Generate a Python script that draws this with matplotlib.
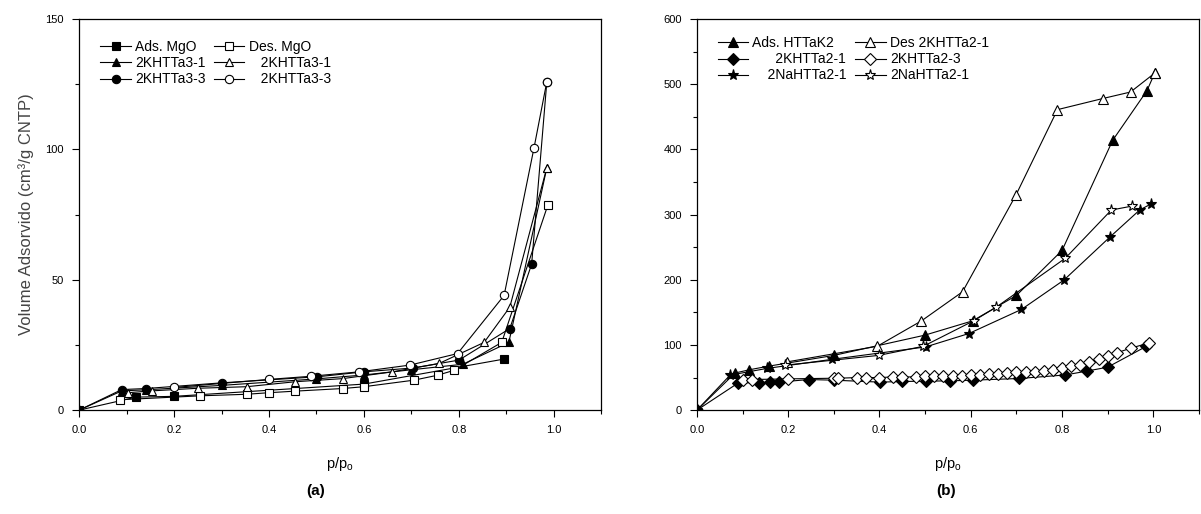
import numpy as np
import matplotlib.pyplot as plt

plt.rcParams['font.family'] = ['Liberation Sans', 'DejaVu Sans']

# ---- panel (a) data ----
ads_mgo_x = [0.0, 0.12, 0.20, 0.60, 0.895]
ads_mgo_y = [0.0, 5.0, 5.3, 10.0, 19.6]
des_mgo_x = [0.086, 0.255, 0.353, 0.40, 0.455, 0.555, 0.60, 0.705, 0.755, 0.79, 0.89, 0.987]
des_mgo_y = [4.0, 5.5, 6.1, 6.7, 7.3, 8.3, 9.0, 11.5, 13.4, 15.3, 26.0, 78.6]

ads_31_x = [0.0, 0.09, 0.14, 0.30, 0.50, 0.60, 0.70, 0.808, 0.905, 0.985]
ads_31_y = [0.0, 7.4, 7.8, 9.5, 12.0, 13.5, 15.5, 17.6, 26.0, 93.0]
des_31_x = [0.103, 0.153, 0.25, 0.353, 0.455, 0.555, 0.66, 0.758, 0.853, 0.907, 0.985]
des_31_y = [6.7, 7.4, 8.4, 9.0, 10.9, 12.1, 14.7, 17.9, 26.0, 39.5, 93.0]

ads_33_x = [0.0, 0.09, 0.141, 0.302, 0.502, 0.60, 0.704, 0.80, 0.907, 0.953, 0.985]
ads_33_y = [0.0, 7.9, 8.3, 10.5, 12.8, 14.7, 16.2, 19.2, 31.3, 56.0, 126.0]
des_33_x = [0.20, 0.40, 0.488, 0.59, 0.697, 0.797, 0.895, 0.958, 0.985]
des_33_y = [8.7, 11.8, 13.0, 14.7, 17.3, 21.7, 44.0, 100.6, 126.0]

# ---- panel (b) data ----
ads_k2_x = [0.0, 0.0835, 0.115, 0.157, 0.30, 0.499, 0.604, 0.70, 0.80, 0.911, 0.986, 1.003]
ads_k2_y = [0.0, 57, 62, 67.5, 84, 115, 137, 176, 245, 414, 490, 517]
des_21_x = [0.197, 0.395, 0.492, 0.582, 0.699, 0.79, 0.889, 0.95, 1.003]
des_21_y = [74, 98, 137, 181.6, 330, 461, 478, 488, 517]

ads_d21_x = [0.0, 0.091, 0.135, 0.16, 0.179, 0.245, 0.30, 0.402, 0.45, 0.503, 0.555,
             0.604, 0.706, 0.807, 0.855, 0.90, 0.985]
ads_d21_y = [0.0, 42, 42, 43, 43, 47, 46, 43, 44, 44.5, 45, 46, 48.6, 54, 60, 66, 98]
des_d23_x = [0.10, 0.12, 0.20, 0.30, 0.31, 0.35, 0.37, 0.40, 0.43, 0.45, 0.48, 0.50,
             0.52, 0.54, 0.56, 0.58, 0.60, 0.62, 0.64, 0.66, 0.68, 0.70, 0.72, 0.74,
             0.76, 0.78, 0.80, 0.82, 0.84, 0.86, 0.88, 0.90, 0.92, 0.95, 0.99]
des_d23_y = [47, 47, 48, 49, 49, 50, 50, 50, 51, 51, 51, 52, 52, 52, 53, 53, 54, 54,
             55, 56, 57, 58, 58, 59, 60, 62, 64, 67, 70, 74, 78, 83, 88, 95, 103]

ads_na_x = [0.0, 0.0725, 0.153, 0.296, 0.501, 0.596, 0.711, 0.804, 0.904, 0.97, 0.994]
ads_na_y = [0.0, 53.7, 64, 78, 97, 117.6, 154.5, 199.5, 265, 307, 316]
des_na_x = [0.193, 0.398, 0.496, 0.606, 0.655, 0.807, 0.908, 0.953]
des_na_y = [69, 84, 98, 137, 157.6, 233, 307, 313]

fig = plt.figure(figsize=(12.01, 5.14), dpi=100)
ax1 = fig.add_axes([0.0658, 0.202, 0.435, 0.761])
ax2 = fig.add_axes([0.5803, 0.202, 0.418, 0.761])

lw = 0.8
ms = 6


def line(ax, x, y, marker, filled, label, ms=ms):
    ax.plot(x, y, color='black', lw=lw, marker=marker, ms=ms,
            mfc='black' if filled else 'white', mec='black', mew=0.8, label=label)


# panel (a)
line(ax1, ads_mgo_x, ads_mgo_y, 's', True, 'Ads. MgO')
line(ax1, ads_31_x, ads_31_y, '^', True, '2KHTTa3-1')
line(ax1, ads_33_x, ads_33_y, 'o', True, '2KHTTa3-3')
line(ax1, des_mgo_x, des_mgo_y, 's', False, 'Des. MgO')
line(ax1, des_31_x, des_31_y, '^', False, '   2KHTTa3-1')
line(ax1, des_33_x, des_33_y, 'o', False, '   2KHTTa3-3')

# panel (b)
line(ax2, ads_k2_x, ads_k2_y, '^', True, 'Ads. HTTaK2', ms=7)
line(ax2, ads_d21_x, ads_d21_y, 'D', True, '      2KHTTa2-1')
line(ax2, ads_na_x, ads_na_y, '*', True, '    2NaHTTa2-1', ms=8)
line(ax2, des_21_x, des_21_y, '^', False, 'Des 2KHTTa2-1', ms=7)
line(ax2, des_d23_x, des_d23_y, 'D', False, '2KHTTa2-3')
line(ax2, des_na_x, des_na_y, '*', False, '2NaHTTa2-1', ms=8)

for ax, ymax, ymaj, ymin in [(ax1, 150, 50, 25), (ax2, 600, 100, 50)]:
    ax.set_xlim(0, 1.1)
    ax.set_ylim(0, ymax)
    ax.set_xticks(np.arange(0, 1.01, 0.2))
    ax.set_xticks(np.arange(0, 1.11, 0.1), minor=True)
    ax.set_yticks(np.arange(0, ymax + 1, ymaj))
    ax.set_yticks(np.arange(0, ymax + 1, ymin), minor=True)
    ax.set_xticklabels(['%.1f' % v for v in np.arange(0, 1.01, 0.2)])
    ax.tick_params(which='major', direction='out', length=5, width=0.8, labelsize=8, pad=6)
    ax.tick_params(which='minor', direction='out', length=3, width=0.8)
    ax.tick_params(top=False, right=False, which='both')
    for s in ax.spines.values():
        s.set_linewidth(0.9)
    ax.set_xlabel('p/p$_\\mathregular{o}$', fontsize=10.5, labelpad=14)

ax1.set_ylabel('Volume Adsorvido (cm³/g CNTP)', fontsize=12, color='#444444', labelpad=8)

ax1.legend(loc='upper left', bbox_to_anchor=(0.03, 0.96), ncol=2, frameon=False,
           fontsize=10, handlelength=2.2, handletextpad=0.3, columnspacing=0.6,
           labelspacing=0.15, borderaxespad=0)
ax2.legend(loc='upper left', bbox_to_anchor=(0.03, 0.97), ncol=2, frameon=False,
           fontsize=10, handlelength=2.2, handletextpad=0.3, columnspacing=0.6,
           labelspacing=0.15, borderaxespad=0)

fig.text(0.2627, 0.037, '(a)', ha='center', fontsize=11, fontweight='bold')
fig.text(0.788, 0.037, '(b)', ha='center', fontsize=11, fontweight='bold')

fig.savefig('out.png', dpi=100)
